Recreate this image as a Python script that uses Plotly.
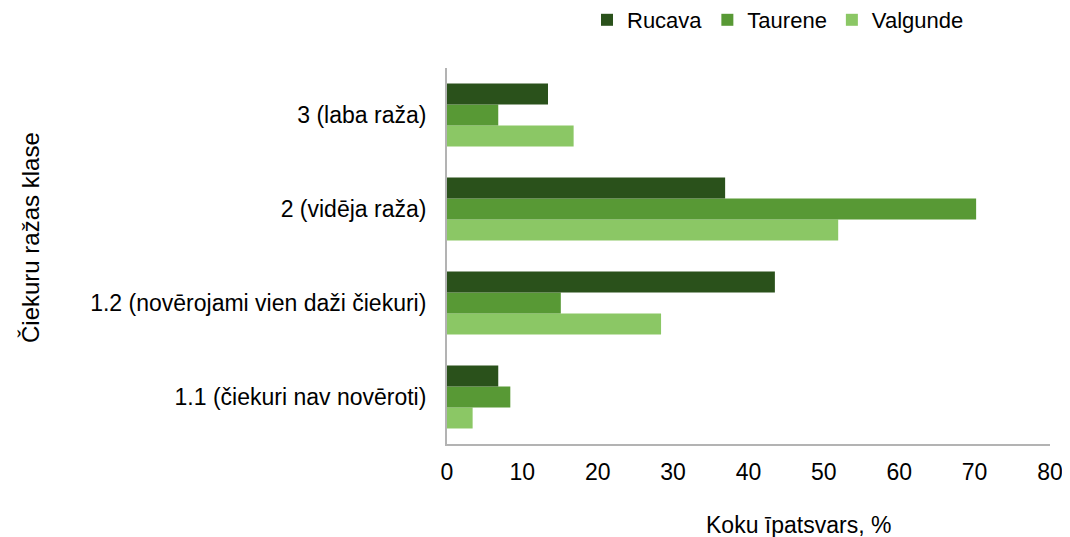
import plotly.graph_objects as go

categories = ['1.1 (čiekuri nav novēroti)', '1.2 (novērojami vien daži čiekuri)',
              '2 (vidēja raža)', '3 (laba raža)']
rucava = [6.8, 43.5, 36.9, 13.4]
taurene = [8.4, 15.1, 70.2, 6.8]
valgunde = [3.4, 28.4, 51.9, 16.8]

series = [('Valgunde', valgunde, '#8BC765'),
          ('Taurene', taurene, '#589935'),
          ('Rucava', rucava, '#2A511B')]

font = 'Liberation Sans, Arial, sans-serif'

# page body has an 8px margin, so the figure is a bit smaller than the window
W, H = 1062, 529
L, T, R, B = 439, 60, 20, 93
pw = W - L - R
ph = H - T - B

fig = go.Figure()
for name, vals, col in series:
    fig.add_trace(go.Bar(y=categories, x=vals, name=name, orientation='h',
                         marker=dict(color=col, line=dict(width=0))))

fig.update_layout(
    width=W, height=H,
    barmode='group', bargap=0.33, bargroupgap=0,
    plot_bgcolor='white', paper_bgcolor='white',
    margin=dict(l=L, r=R, t=T, b=B, autoexpand=False),
    font=dict(family=font, size=23, color='#000000'),
    legend=dict(orientation='h', traceorder='reversed',
                x=(770 - L) / pw, xanchor='center',
                y=(H - B - 12) / ph, yanchor='middle',
                font=dict(size=22), itemwidth=30),
    showlegend=True,
)

fig.update_xaxes(range=[0, 80], dtick=10, showgrid=False, zeroline=False,
                 showline=True, linecolor='#B3B3B3', linewidth=2,
                 ticks='', ticklabelstandoff=6, automargin=False)
fig.update_yaxes(showgrid=False, zeroline=False, showline=True,
                 linecolor='#B3B3B3', linewidth=2, ticks='',
                 ticklabelstandoff=14, automargin=False)

fig.add_annotation(text='Koku īpatsvars, %', xref='paper', yref='paper',
                   x=(790 - L) / pw, y=(H - B - 517) / ph,
                   xanchor='center', yanchor='middle',
                   showarrow=False, font=dict(size=23))
fig.add_annotation(text='Čiekuru ražas klase', xref='paper', yref='paper',
                   x=(22 - L) / pw, y=(H - B - 230) / ph, textangle=-90,
                   xanchor='center', yanchor='middle',
                   showarrow=False, font=dict(size=24))

fig.write_html('out.html')
